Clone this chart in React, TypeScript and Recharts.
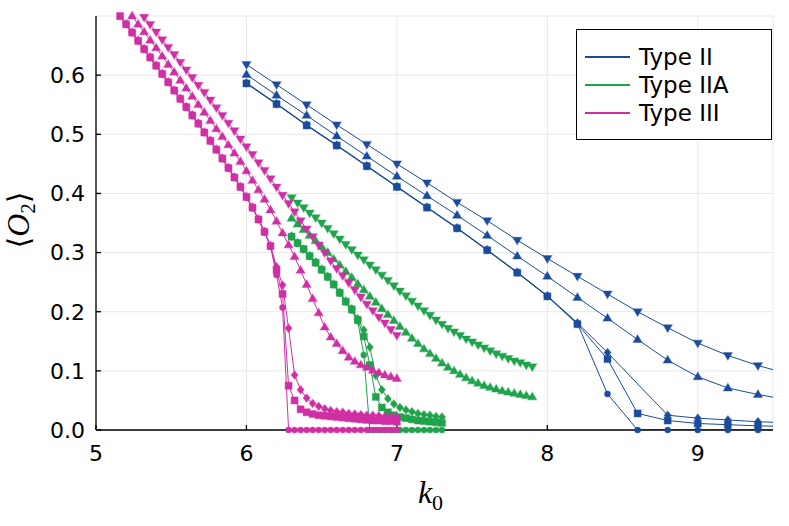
import { ComposedChart, Line, XAxis, YAxis, CartesianGrid, Label } from "recharts";

const BLUE = "#1b4c9c";
const GREEN = "#1fa34b";
const MAGENTA = "#d02fa4";

// Type II, step 0.2 (last point sits past the right edge and gets clipped)
const K_II = [6.0, 6.2, 6.4, 6.6, 6.8, 7.0, 7.2, 7.4, 7.6, 7.8, 8.0, 8.2, 8.4, 8.6, 8.8, 9.0, 9.2, 9.4, 9.6];
const II_DOWN = [0.618, 0.584, 0.55, 0.516, 0.483, 0.45, 0.418, 0.385, 0.354, 0.321, 0.29, 0.26, 0.23, 0.2, 0.173, 0.147, 0.126, 0.109, 0.095];
const II_UP = [0.601, 0.566, 0.532, 0.497, 0.463, 0.429, 0.396, 0.363, 0.329, 0.294, 0.26, 0.224, 0.189, 0.153, 0.118, 0.09, 0.071, 0.06, 0.051];
const II_SQUARE = [0.586, 0.551, 0.515, 0.481, 0.446, 0.411, 0.376, 0.341, 0.304, 0.266, 0.226, 0.179, 0.12, 0.028, 0.016, 0.011, 0.009, 0.007, 0.006];
const II_CIRCLE = [0.586, 0.551, 0.515, 0.481, 0.446, 0.411, 0.376, 0.341, 0.304, 0.266, 0.226, 0.18, 0.061, 0, 0, 0, 0, 0, 0];
// diamond run has no point at 8.6
const K_II_DIAMOND = [6.0, 6.2, 6.4, 6.6, 6.8, 7.0, 7.2, 7.4, 7.6, 7.8, 8.0, 8.2, 8.4, 8.8, 9.0, 9.2, 9.4, 9.6];
const II_DIAMOND = [0.587, 0.552, 0.516, 0.482, 0.447, 0.412, 0.377, 0.342, 0.305, 0.267, 0.227, 0.181, 0.131, 0.025, 0.02, 0.017, 0.014, 0.012];

// Type IIA, step 0.04
const K_IIA = [
  6.3, 6.34, 6.38, 6.42, 6.46, 6.5, 6.54, 6.58, 6.62, 6.66, 6.7, 6.74, 6.78, 6.82, 6.86, 6.9, 6.94, 6.98, 7.02, 7.06,
  7.1, 7.14, 7.18, 7.22, 7.26, 7.3, 7.34, 7.38, 7.42, 7.46, 7.5, 7.54, 7.58, 7.62, 7.66, 7.7, 7.74, 7.78, 7.82, 7.86, 7.9,
];
const IIA_DOWN = [
  0.393, 0.384, 0.376, 0.367, 0.359, 0.35, 0.341, 0.332, 0.323, 0.314, 0.305, 0.296, 0.288, 0.279, 0.271, 0.262, 0.253,
  0.244, 0.235, 0.227, 0.218, 0.21, 0.202, 0.194, 0.186, 0.179, 0.172, 0.166, 0.16, 0.154, 0.149, 0.144, 0.139, 0.134,
  0.129, 0.125, 0.121, 0.117, 0.114, 0.11, 0.107,
];
const IIA_UP = [
  0.358, 0.348, 0.339, 0.329, 0.32, 0.31, 0.3, 0.289, 0.279, 0.268, 0.258, 0.247, 0.237, 0.226, 0.216, 0.205, 0.195,
  0.185, 0.175, 0.165, 0.155, 0.146, 0.137, 0.129, 0.121, 0.113, 0.106, 0.1, 0.094, 0.088, 0.083, 0.079, 0.075, 0.072,
  0.069, 0.066, 0.064, 0.062, 0.06, 0.058, 0.056,
];
const IIA_SQUARE = [
  0.327, 0.316, 0.306, 0.294, 0.283, 0.271, 0.259, 0.246, 0.232, 0.217, 0.204, 0.186, 0.158, 0.11, 0.056, 0.038, 0.03,
  0.025, 0.022, 0.02, 0.018, 0.016, 0.015, 0.014, 0.013, 0.012,
];
const IIA_DIAMOND = [
  0.328, 0.317, 0.306, 0.295, 0.284, 0.272, 0.26, 0.247, 0.233, 0.218, 0.205, 0.188, 0.169, 0.14, 0.092, 0.068, 0.053,
  0.044, 0.038, 0.034, 0.031, 0.028, 0.026, 0.025, 0.023, 0.022,
];
const IIA_CIRCLE = [
  0.326, 0.315, 0.305, 0.293, 0.282, 0.27, 0.258, 0.245, 0.231, 0.216, 0.202, 0.184, 0.127, 0, 0, 0, 0, 0, 0, 0, 0, 0,
  0, 0, 0, 0,
];

// Type III, step 0.04 (starts above the top edge)
const K_III = [
  5.0, 5.04, 5.08, 5.12, 5.16, 5.2, 5.24, 5.28, 5.32, 5.36, 5.4, 5.44, 5.48, 5.52, 5.56, 5.6, 5.64, 5.68, 5.72, 5.76,
  5.8, 5.84, 5.88, 5.92, 5.96, 6.0, 6.04, 6.08, 6.12, 6.16, 6.2, 6.24, 6.28, 6.32, 6.36, 6.4, 6.44, 6.48, 6.52, 6.56,
  6.6, 6.64, 6.68, 6.72, 6.76, 6.8, 6.84, 6.88, 6.92, 6.96, 7.0,
];
const III_DOWN = [
  0.8, 0.787, 0.775, 0.762, 0.749, 0.737, 0.724, 0.711, 0.698, 0.686, 0.673, 0.66, 0.647, 0.635, 0.622, 0.609, 0.596,
  0.583, 0.571, 0.558, 0.545, 0.532, 0.519, 0.506, 0.492, 0.479, 0.466, 0.452, 0.439, 0.425, 0.411, 0.397, 0.383, 0.369,
  0.354, 0.34, 0.327, 0.313, 0.3, 0.286, 0.273, 0.261, 0.249, 0.237, 0.225, 0.213, 0.202, 0.191, 0.181, 0.17, 0.16,
];
const III_UP = [
  0.782, 0.768, 0.755, 0.741, 0.727, 0.714, 0.7, 0.686, 0.673, 0.659, 0.646, 0.632, 0.618, 0.605, 0.591, 0.578, 0.564,
  0.55, 0.537, 0.523, 0.509, 0.496, 0.482, 0.468, 0.454, 0.438, 0.422, 0.406, 0.39, 0.372, 0.353, 0.333, 0.313, 0.293,
  0.27, 0.246, 0.222, 0.198, 0.174, 0.157, 0.146, 0.134, 0.123, 0.116, 0.11, 0.106, 0.101, 0.097, 0.093, 0.09, 0.087,
];
const III_SQUARE = [
  0.756, 0.742, 0.728, 0.714, 0.7, 0.686, 0.672, 0.658, 0.644, 0.63, 0.616, 0.602, 0.588, 0.574, 0.56, 0.546, 0.532,
  0.518, 0.503, 0.489, 0.474, 0.459, 0.443, 0.427, 0.411, 0.394, 0.376, 0.356, 0.335, 0.311, 0.27, 0.23, 0.075, 0.05,
  0.035, 0.03, 0.027, 0.025, 0.024, 0.023, 0.022, 0.021, 0.02, 0.019, 0.018, 0.017, 0.016, 0.016, 0.015, 0.015, 0.014,
];
const III_DIAMOND = [
  0.757, 0.743, 0.729, 0.715, 0.701, 0.687, 0.673, 0.659, 0.645, 0.631, 0.617, 0.603, 0.589, 0.575, 0.561, 0.547, 0.533,
  0.519, 0.504, 0.49, 0.475, 0.46, 0.444, 0.428, 0.412, 0.395, 0.377, 0.357, 0.336, 0.312, 0.276, 0.245, 0.172, 0.093,
  0.068, 0.054, 0.045, 0.04, 0.036, 0.033, 0.031, 0.03, 0.028, 0.027, 0.026, 0.025, 0.025, 0.024, 0.023, 0.023, 0.022,
];
const III_CIRCLE = [
  0.755, 0.741, 0.727, 0.713, 0.699, 0.685, 0.671, 0.657, 0.643, 0.629, 0.615, 0.601, 0.587, 0.573, 0.559, 0.545, 0.531,
  0.517, 0.502, 0.488, 0.473, 0.458, 0.442, 0.426, 0.41, 0.393, 0.375, 0.355, 0.334, 0.31, 0.262, 0.207, 0, 0, 0, 0, 0,
  0, 0, 0, 0, 0, 0, 0, 0, 0, 0, 0, 0, 0, 0,
];

const X_TICKS = [5, 6, 7, 8, 9];
const Y_TICKS = [0, 0.1, 0.2, 0.3, 0.4, 0.5, 0.6];
const X_MAX = 9.5;
const Y_MAX = 0.7;

type Shape = "square" | "circle" | "diamond" | "up" | "down";
type Pt = { k: number; v: number };

function zip(k: number[], v: number[]): Pt[] {
  return v.map((y, i) => ({ k: k[i], v: y }));
}

const SERIES: { id: string; color: string; shape: Shape; pts: Pt[] }[] = [
  { id: "ii-circle", color: BLUE, shape: "circle", pts: zip(K_II, II_CIRCLE) },
  { id: "ii-diamond", color: BLUE, shape: "diamond", pts: zip(K_II_DIAMOND, II_DIAMOND) },
  { id: "ii-square", color: BLUE, shape: "square", pts: zip(K_II, II_SQUARE) },
  { id: "ii-up", color: BLUE, shape: "up", pts: zip(K_II, II_UP) },
  { id: "ii-down", color: BLUE, shape: "down", pts: zip(K_II, II_DOWN) },
  { id: "iia-circle", color: GREEN, shape: "circle", pts: zip(K_IIA, IIA_CIRCLE) },
  { id: "iia-diamond", color: GREEN, shape: "diamond", pts: zip(K_IIA, IIA_DIAMOND) },
  { id: "iia-square", color: GREEN, shape: "square", pts: zip(K_IIA, IIA_SQUARE) },
  { id: "iia-up", color: GREEN, shape: "up", pts: zip(K_IIA, IIA_UP) },
  { id: "iia-down", color: GREEN, shape: "down", pts: zip(K_IIA, IIA_DOWN) },
  { id: "iii-circle", color: MAGENTA, shape: "circle", pts: zip(K_III, III_CIRCLE) },
  { id: "iii-diamond", color: MAGENTA, shape: "diamond", pts: zip(K_III, III_DIAMOND) },
  { id: "iii-square", color: MAGENTA, shape: "square", pts: zip(K_III, III_SQUARE) },
  { id: "iii-up", color: MAGENTA, shape: "up", pts: zip(K_III, III_UP) },
  { id: "iii-down", color: MAGENTA, shape: "down", pts: zip(K_III, III_DOWN) },
];

const LEGEND = [
  { name: "Type II", color: BLUE },
  { name: "Type IIA", color: GREEN },
  { name: "Type III", color: MAGENTA },
];

function markerFor(shape: Shape, color: string) {
  return (props: any) => {
    const { cx, cy, index } = props;
    const key = `m-${index}`;
    if (typeof cx !== "number" || typeof cy !== "number") return <g key={key} />;
    const style = { fill: color, stroke: color, strokeOpacity: 0.35, strokeWidth: 1.2 };
    switch (shape) {
      case "square":
        return <rect key={key} x={cx - 3.5} y={cy - 3.5} width={7} height={7} {...style} />;
      case "circle":
        return <circle key={key} cx={cx} cy={cy} r={3} {...style} />;
      case "diamond":
        return (
          <polygon key={key} points={`${cx},${cy - 4.2} ${cx + 3.5},${cy} ${cx},${cy + 4.2} ${cx - 3.5},${cy}`} {...style} />
        );
      case "up":
        return (
          <polygon key={key} points={`${cx},${cy - 4.7} ${cx + 4.5},${cy + 2.9} ${cx - 4.5},${cy + 2.9}`} {...style} />
        );
      default:
        return (
          <polygon key={key} points={`${cx},${cy + 4.7} ${cx + 4.5},${cy - 2.9} ${cx - 4.5},${cy - 2.9}`} {...style} />
        );
    }
  };
}

const tickStyle = { fill: "#000", fontSize: 22, fontFamily: "DejaVu Sans" };

function XTitle({ viewBox }: any) {
  const cx = viewBox.x + viewBox.width / 2 - 4;
  return (
    <text x={cx} y={viewBox.y + 73} textAnchor="middle" fontFamily="Liberation Serif" fontSize={32} fill="#000">
      <tspan fontStyle="italic">k</tspan>
      <tspan fontSize={22} dy={7}>0</tspan>
    </text>
  );
}

function YTitle({ viewBox }: any) {
  const cy = viewBox.y + viewBox.height / 2 - 3;
  return (
    <text
      transform={`translate(${viewBox.x - 7}, ${cy}) rotate(-90)`}
      textAnchor="middle"
      fontFamily="DejaVu Serif"
      fontSize={30}
      fill="#000"
    >
      <tspan fontWeight={200}>⟨</tspan>
      <tspan fontFamily="Liberation Serif" fontStyle="italic" fontSize={32}>O</tspan>
      <tspan fontFamily="Liberation Serif" fontSize={21} dy={6}>2</tspan>
      <tspan dy={-6} fontWeight={200}>⟩</tspan>
    </text>
  );
}

export default function App() {
  return (
    <div style={{ position: "absolute", left: 0, top: 0, width: 789, height: 526, background: "#fff" }}>
      <ComposedChart width={789} height={526} margin={{ top: 16, right: 16, bottom: 56, left: 36 }}>
        <CartesianGrid xAxisId="x" yAxisId="y" stroke="#e8e8e8" strokeWidth={1} />
        <XAxis
          xAxisId="x"
          type="number"
          dataKey="k"
          domain={[5, X_MAX]}
          ticks={X_TICKS}
          allowDataOverflow
          height={40}
          tick={tickStyle}
          tickSize={-5}
          tickMargin={20}
          axisLine={{ stroke: "#000", strokeWidth: 1.3 }}
          tickLine={{ stroke: "#000", strokeWidth: 1.3 }}
        >
          <Label content={XTitle} />
        </XAxis>
        <YAxis
          yAxisId="y"
          type="number"
          domain={[0, Y_MAX]}
          ticks={Y_TICKS}
          allowDataOverflow
          width={60}
          tick={tickStyle}
          tickFormatter={(v: number) => v.toFixed(1)}
          tickSize={-5}
          tickMargin={16}
          axisLine={{ stroke: "#000", strokeWidth: 1.3 }}
          tickLine={{ stroke: "#000", strokeWidth: 1.3 }}
        >
          <Label content={YTitle} />
        </YAxis>
        {/* unclipped twin axes for the markers, so dots on y = 0 stay whole */}
        <XAxis xAxisId="xm" type="number" dataKey="k" domain={[5, X_MAX]} hide height={0} />
        <YAxis yAxisId="ym" type="number" domain={[0, Y_MAX]} hide width={0} />

        {SERIES.map((s) => (
          <Line
            key={s.id}
            data={s.pts}
            dataKey="v"
            xAxisId="x"
            yAxisId="y"
            type="linear"
            stroke={s.color}
            strokeWidth={1}
            dot={false}
            activeDot={false}
            isAnimationActive={false}
          />
        ))}
        {SERIES.map((s) => (
          <Line
            key={`${s.id}-m`}
            data={s.pts.filter((p) => p.k <= X_MAX && p.v <= Y_MAX)}
            dataKey="v"
            xAxisId="xm"
            yAxisId="ym"
            type="linear"
            stroke="none"
            dot={markerFor(s.shape, s.color)}
            activeDot={false}
            legendType="none"
            isAnimationActive={false}
          />
        ))}
      </ComposedChart>

      <div
        style={{
          position: "absolute",
          left: 576,
          top: 29,
          width: 194,
          height: 109,
          border: "1.3px solid #000",
          background: "#fff",
          fontFamily: "DejaVu Sans",
          fontSize: 23,
        }}
      >
        {LEGEND.map((l, i) => (
          <div
            key={l.name}
            style={{ position: "absolute", left: 8, top: 13 + i * 28, height: 28, display: "flex", alignItems: "center" }}
          >
            <span style={{ display: "inline-block", width: 45, height: 2, background: l.color, marginRight: 9 }} />
            <span>{l.name}</span>
          </div>
        ))}
      </div>
    </div>
  );
}
